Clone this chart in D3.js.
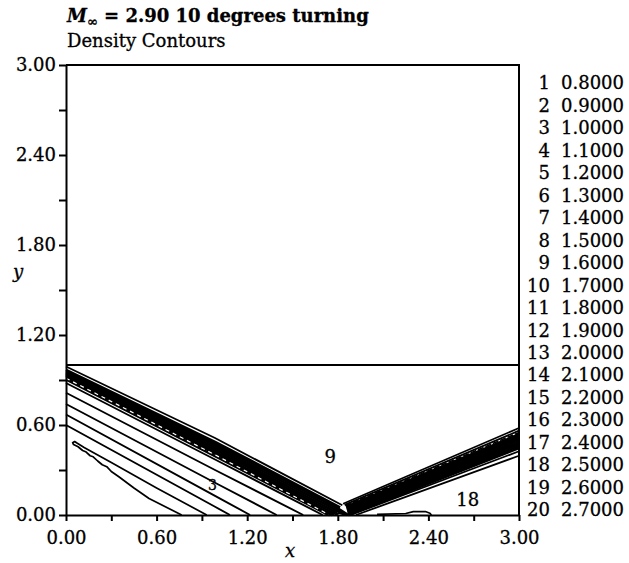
<!DOCTYPE html>
<html>
<head>
<meta charset="utf-8">
<script src="https://cdn.jsdelivr.net/npm/d3@7"></script>
<style>
body { margin:0; background:#fff; }
svg { display:block; }
text { font-family:"DejaVu Serif", "Liberation Serif", serif; fill:#000; stroke:#000; stroke-width:0.3px; }
.domain, .tick line { stroke:#000; stroke-width:2px; }
</style>
</head>
<body>
<svg id="chart" width="629" height="563"></svg>
<script>
// ticks of both axes (every 0.3, label every 0.6)
var xTicks = [0, 0.3, 0.6, 0.9, 1.2, 1.5, 1.8, 2.1, 2.4, 2.7, 3.0];
var yTicks = [0, 0.3, 0.6, 0.9, 1.2, 1.5, 1.8, 2.1, 2.4, 2.7, 3.0];
var tickLabels = ["0.00", "0.60", "1.20", "1.80", "2.40", "3.00"];

// contour levels (legend)
var levelIds = [1,2,3,4,5,6,7,8,9,10,11,12,13,14,15,16,17,18,19,20];
var levelValues = [0.8,0.9,1.0,1.1,1.2,1.3,1.4,1.5,1.6,1.7,1.8,1.9,2.0,2.1,2.2,2.3,2.4,2.5,2.6,2.7];

// top wall of the channel
var wallLine = [[0,1.0],[3,1.0]];

// incident shock: top contour + the packed ones under it
var incidentTop = [[0,0.99],[0.987,0.513],[1.83,0.065]];
var incidentLines = [
    [[0,0.967],[0.987,0.488],[1.815,0.05]],
    [[0,0.959],[0.987,0.475],[1.805,0.04]],
    [[0,0.951],[0.987,0.462],[1.795,0.03]],
    [[0,0.943],[0.987,0.449],[1.785,0.02]],
    [[0,0.935],[0.987,0.436],[1.775,0.01]],
    [[0,0.927],[0.987,0.423],[1.765,0]],
    [[0,0.919],[0.987,0.41],[1.752,0]],
    [[0,0.905],[0.987,0.392],[1.74,0]]
];
var incidentGap = [[0,0.912],[0.987,0.401],[1.746,0]];

// lines below the incident shock
var fanLines = [
    [[0,0.88],[0.987,0.37],[1.7,0]],
    [[0,0.815],[0.987,0.3],[1.571,0]],
    [[0,0.74],[0.987,0.215],[1.395,0]],
    [[0,0.67],[0.987,0.128],[1.219,0]],
    [[0,0.6],[0.987,0.055],[1.086,0]]
];
// narrow closed contour with its tip near the left wall
var loopLine = [[0.932,0],[0.6,0.18],[0.3,0.35],[0.12,0.45],[0.075,0.478],[0.057,0.49],
    [0.044,0.482],[0.05,0.47],[0.08,0.455],[0.11,0.43],[0.13,0.422],[0.16,0.395],[0.18,0.388],
    [0.21,0.36],[0.24,0.335],[0.27,0.322],[0.3,0.29],[0.35,0.255],[0.45,0.18],[0.55,0.11],[0.766,0]];

// reflected shock contours
var reflectedTop = [[1.835,0.075],[3,0.58]];
var reflectedLines = [
    [[1.845,0.068],[3,0.562]],
    [[1.855,0.055],[3,0.538]],
    [[1.857,0.048],[3,0.525]],
    [[1.859,0.04],[3,0.512]],
    [[1.861,0.032],[3,0.499]],
    [[1.863,0.024],[3,0.486]],
    [[1.865,0.016],[3,0.473]],
    [[1.867,0.008],[3,0.46]],
    [[1.87,0],[3,0.447]],
    [[1.885,0],[3,0.425]],
    [[1.92,0],[3,0.395]]
];
var reflectedDashed = [[1.85,0.062],[3,0.55]];

// corner under the V
var apexLines = [
    [[1.74,0],[1.8,0.045],[1.87,0]],
    [[1.76,0],[1.805,0.03],[1.86,0]],
    [[1.78,0],[1.81,0.015],[1.85,0]]
];

// small bump on the lower wall
var bumpLine = [[2.06,0.004],[2.25,0.01],[2.3,0.022],[2.38,0.023],[2.41,0.012],[2.42,0]];

// contour labels inside the plot
var contourLabels = [
    {text:"9", x:1.75, y:0.39, size:18},
    {text:"18", x:2.66, y:0.1, size:18},
    {text:"3", x:0.97, y:0.2, size:14}
];

function drawChart() {
    var svg = d3.select("#chart");
    var padding = {top:65, right:110, bottom:48, left:66};
    var chartArea = {
        "width": 453,
        "height": 450
    };

    var xScale = d3.scaleLinear().domain([0, 3]).range([0, chartArea.width]);
    var yScale = d3.scaleLinear().domain([0, 3]).range([chartArea.height, 0]);

    var fmt = function(d) {
        var lbl = d.toFixed(2);
        return tickLabels.indexOf(lbl) >= 0 ? lbl : "";
    };

    var g = svg.append("g")
        .attr("transform", "translate(" + padding.left + "," + padding.top + ")");

    var line = d3.line()
        .x(function(d) { return xScale(d[0]); })
        .y(function(d) { return yScale(d[1]); });

    // contours
    var cg = g.append("g")
        .attr("fill", "none")
        .attr("stroke", "#000")
        .attr("stroke-linejoin", "round");

    cg.append("path").attr("d", line(incidentTop)).attr("stroke-width", 1.8);
    cg.selectAll("path.inc").data(incidentLines).enter()
        .append("path").attr("class", "inc")
        .attr("d", line).attr("stroke-width", 2.6);
    // white dashes inside the black band
    cg.append("path").attr("d", line(incidentGap))
        .attr("stroke", "#fff").attr("stroke-width", 1.2).attr("stroke-dasharray", "4,4");

    cg.selectAll("path.fan").data(fanLines).enter()
        .append("path").attr("class", "fan")
        .attr("d", line).attr("stroke-width", 1.9);
    cg.append("path").attr("d", line(loopLine)).attr("stroke-width", 1.7);

    cg.append("path").attr("d", line(reflectedTop)).attr("stroke-width", 1.8);
    cg.selectAll("path.ref").data(reflectedLines).enter()
        .append("path").attr("class", "ref")
        .attr("d", line).attr("stroke-width", function(d, i) { return i === 0 || i > 8 ? 1.8 : 2.6; });
    cg.append("path").attr("d", line(reflectedDashed))
        .attr("stroke-width", 1.6).attr("stroke-dasharray", "6,2");

    cg.selectAll("path.apex").data(apexLines).enter()
        .append("path").attr("class", "apex")
        .attr("d", line).attr("stroke-width", 2.4);

    cg.append("path").attr("d", line(bumpLine)).attr("stroke-width", 1.7);

    // channel top wall + frame
    g.append("path").attr("d", line(wallLine))
        .attr("fill", "none").attr("stroke", "#000").attr("stroke-width", 2);
    g.append("path").attr("d", line([[0,3],[3,3],[3,0]]))
        .attr("fill", "none").attr("stroke", "#000").attr("stroke-width", 2);

    // axes
    g.append("g")
        .attr("transform", "translate(0," + chartArea.height + ")")
        .call(d3.axisBottom(xScale).tickValues(xTicks).tickSize(6).tickSizeOuter(0)
            .tickPadding(10).tickFormat(fmt));
    g.append("g")
        .call(d3.axisLeft(yScale).tickValues(yTicks).tickSize(7).tickSizeOuter(0)
            .tickPadding(3).tickFormat(fmt));
    svg.selectAll(".tick text")
        .style("font-family", '"DejaVu Serif", serif')
        .style("font-size", "18px");

    // labels on contours
    g.selectAll("text.clab").data(contourLabels).enter()
        .append("text").attr("class", "clab")
        .attr("x", function(d) { return xScale(d.x); })
        .attr("y", function(d) { return yScale(d.y); })
        .attr("dy", "0.35em")
        .attr("text-anchor", "middle")
        .style("font-size", function(d) { return d.size + "px"; })
        .text(function(d) { return d.text; });

    // axis captions
    svg.append("text")
        .attr("x", 290).attr("y", 557)
        .attr("text-anchor", "middle")
        .style("font-style", "italic").style("font-size", "18px")
        .text("x");
    svg.append("text")
        .attr("x", 18).attr("y", 278)
        .attr("text-anchor", "middle")
        .style("font-style", "italic").style("font-size", "18px")
        .text("y");

    // title
    var t = svg.append("text")
        .attr("x", 67).attr("y", 22)
        .style("font-size", "18px").style("font-weight", "bold");
    t.append("tspan").style("font-style", "italic").text("M");
    t.append("tspan").attr("dy", 4).style("font-size", "13px").text("\u221e");
    t.append("tspan").attr("dy", -4).text(" = 2.90 10 degrees turning");

    svg.append("text")
        .attr("x", 67).attr("y", 47)
        .style("font-size", "18px")
        .text("Density Contours");

    // legend of levels
    var rowScale = d3.scaleLinear().domain([0, levelIds.length - 1]).range([83, 510]);
    var lg = svg.append("g").style("font-size", "18px");
    lg.selectAll("text.lid").data(levelIds).enter()
        .append("text").attr("class", "lid")
        .attr("x", 550)
        .attr("y", function(d, i) { return rowScale(i); })
        .attr("dy", "0.35em")
        .attr("text-anchor", "end")
        .text(function(d) { return d; });
    lg.selectAll("text.lval").data(levelValues).enter()
        .append("text").attr("class", "lval")
        .attr("x", 624)
        .attr("y", function(d, i) { return rowScale(i); })
        .attr("dy", "0.35em")
        .attr("text-anchor", "end")
        .text(function(d) { return d.toFixed(4); });
}

drawChart();
</script>
</body>
</html>
